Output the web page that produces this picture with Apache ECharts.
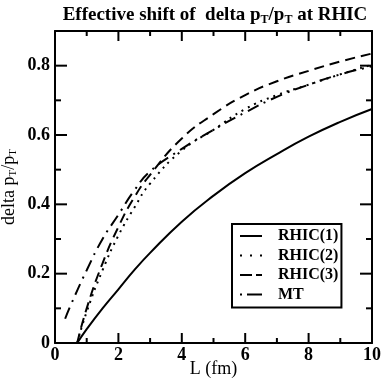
<!DOCTYPE html>
<html>
<head>
<meta charset="utf-8">
<script src="https://cdn.jsdelivr.net/npm/echarts@6/dist/echarts.min.js"></script>
<style>
  html, body { margin: 0; padding: 0; background: #fff; }
  #main { width: 382px; height: 382px; }
</style>
</head>
<body>
<div id="main"></div>
<script>
// values: [L (fm), delta pT/pT]
var rhic1 = [[0.7, 0], [1, 0.04], [1.5, 0.1], [2, 0.155], [2.5, 0.21], [3, 0.26], [4, 0.35], [5, 0.425], [6, 0.49], [7, 0.545], [8, 0.595], [9, 0.638], [10, 0.675]];
var rhic2 = [[0.7, 0], [1, 0.09], [1.5, 0.21], [2, 0.31], [2.5, 0.39], [3, 0.46], [4, 0.555], [5, 0.615], [6, 0.675], [7, 0.715], [8, 0.745], [9, 0.775], [10, 0.803]];
var rhic3 = [[0.7, 0], [1, 0.1], [1.5, 0.23], [2, 0.335], [2.5, 0.42], [3, 0.485], [4, 0.59], [5, 0.66], [6, 0.715], [7, 0.755], [8, 0.785], [9, 0.812], [10, 0.835]];
var mt = [[0.32, 0.07], [0.5, 0.11], [1, 0.21], [1.5, 0.3], [2, 0.37], [2.5, 0.44], [3, 0.495], [4, 0.56], [5, 0.615], [6, 0.665], [7, 0.71], [8, 0.745], [9, 0.775], [10, 0.798]];
var seriesNames = ['RHIC(1)', 'RHIC(2)', 'RHIC(3)', 'MT'];

// tick positions on the frame (inside ticks on all four sides)
var xMajorTicks = [0, 2, 4, 6, 8, 10];
var xMinorTicks = [1, 3, 5, 7, 9];
var yMajorTicks = [0, 0.2, 0.4, 0.6, 0.8];
var yMinorTicks = [0.1, 0.3, 0.5, 0.7];

var chartDom = document.getElementById('main');
var myChart = echarts.init(chartDom);
var font = '"Liberation Serif", "Times New Roman", serif';
var X_MIN = 0, X_MAX = 10, Y_MIN = 0, Y_MAX = 0.9;

// legend samples drawn as little filled dash patterns
var legendIcons = [
  'path://M0,0h22v2h-22z',
  'path://M0,0h2v2h-2z M10,0h2v2h-2z M20,0h2v2h-2z',
  'path://M0,0h12v2h-12z M16,0h6v2h-6z',
  'path://M0,0h2v2h-2z M7,0h15v2h-15z'
];

function line(name, data, type) {
  return {
    name: name,
    type: 'line',
    data: data,
    showSymbol: false,
    symbol: 'none',
    smooth: true,
    lineStyle: { color: '#000', width: 2, type: type },
    itemStyle: { color: '#000' }
  };
}

// each tick item: [value, length in px, 0 = x axis / 1 = y axis]
var tickData = [];
xMajorTicks.forEach(function (v) { tickData.push([v, 10, 0]); });
xMinorTicks.forEach(function (v) { tickData.push([v, 5, 0]); });
yMajorTicks.forEach(function (v) { tickData.push([v, 12, 1]); });
yMinorTicks.forEach(function (v) { tickData.push([v, 6, 1]); });

function renderTick(params, api) {
  var item = tickData[params.dataIndex];
  var v = item[0], len = item[1], kind = item[2];
  var style = { stroke: '#000', lineWidth: 2, fill: null };
  var a, b;
  if (kind === 0) {
    a = api.coord([v, Y_MIN]);
    b = api.coord([v, Y_MAX]);
    return {
      type: 'group',
      children: [
        { type: 'line', shape: { x1: a[0], y1: a[1], x2: a[0], y2: a[1] - len }, style: style },
        { type: 'line', shape: { x1: b[0], y1: b[1], x2: b[0], y2: b[1] + len }, style: style }
      ]
    };
  }
  a = api.coord([X_MIN, v]);
  b = api.coord([X_MAX, v]);
  return {
    type: 'group',
    children: [
      { type: 'line', shape: { x1: a[0], y1: a[1], x2: a[0] + len, y2: a[1] }, style: style },
      { type: 'line', shape: { x1: b[0], y1: b[1], x2: b[0] - len, y2: b[1] }, style: style }
    ]
  };
}

var frameLine = { color: '#000', width: 2 };

var option = {
  animation: false,
  title: {
    text: '{b|Effective shift of  delta p}{s|T}{b|/p}{s|T}{b| at RHIC}',
    left: 210,
    textAlign: 'center',
    top: 0,
    textStyle: {
      rich: {
        b: { fontFamily: font, fontWeight: 'bold', fontSize: 19, color: '#000' },
        s: { fontFamily: font, fontWeight: 'bold', fontSize: 12, color: '#000', padding: [9, 0, 0, 0] }
      }
    }
  },
  grid: { left: 55, right: 10, top: 31, bottom: 39, outerBoundsMode: 'none' },
  legend: {
    data: seriesNames.map(function (n, i) { return { name: n, icon: legendIcons[i] }; }),
    orient: 'vertical',
    left: 232,
    top: 224,
    padding: [4, 3, 5, 8],
    itemGap: 3.5,
    itemWidth: 22,
    itemHeight: 2,
    borderColor: '#000',
    borderWidth: 2,
    borderRadius: 0,
    itemStyle: { color: '#000' },
    textStyle: { fontFamily: font, fontWeight: 'bold', fontSize: 16, lineHeight: 16, color: '#000', padding: [0, 0, 0, 11] }
  },
  xAxis: [{
    type: 'value',
    min: X_MIN,
    max: X_MAX,
    interval: 2,
    name: 'L (fm)',
    nameLocation: 'middle',
    nameGap: 17,
    nameMoveOverlap: false,
    nameTextStyle: { fontFamily: font, fontSize: 18, color: '#000' },
    axisLine: { show: true, onZero: false, lineStyle: frameLine },
    axisTick: { show: false },
    axisLabel: { fontFamily: font, fontWeight: 'bold', fontSize: 18, color: '#000', margin: 3 },
    splitLine: { show: false }
  }, {
    type: 'value',
    position: 'top',
    min: X_MIN,
    max: X_MAX,
    axisLine: { show: true, onZero: false, lineStyle: frameLine },
    axisTick: { show: false },
    axisLabel: { show: false },
    splitLine: { show: false }
  }],
  yAxis: [{
    type: 'value',
    min: Y_MIN,
    max: Y_MAX,
    interval: 0.2,
    name: '{n|delta p}{s|T}{n|/p}{s|T}',
    nameLocation: 'middle',
    nameRotate: 90,
    nameGap: 36,
    nameMoveOverlap: false,
    nameTextStyle: {
      rich: {
        n: { fontFamily: font, fontSize: 18, color: '#000' },
        s: { fontFamily: font, fontSize: 11, color: '#000', padding: [8, 0, 0, 0] }
      }
    },
    axisLine: { show: true, onZero: false, lineStyle: frameLine },
    axisTick: { show: false },
    axisLabel: {
      fontFamily: font, fontWeight: 'bold', fontSize: 18, color: '#000', margin: 5,
      showMaxLabel: false,
      formatter: function (v) { return v === 0 ? '0' : v.toFixed(1); }
    },
    splitLine: { show: false }
  }, {
    type: 'value',
    position: 'right',
    min: Y_MIN,
    max: Y_MAX,
    axisLine: { show: true, onZero: false, lineStyle: frameLine },
    axisTick: { show: false },
    axisLabel: { show: false },
    splitLine: { show: false }
  }],
  series: [
    line(seriesNames[0], rhic1, 'solid'),
    line(seriesNames[1], rhic2, [2, 5]),
    line(seriesNames[2], rhic3, [10, 6]),
    line(seriesNames[3], mt, [12, 6, 2, 6]),
    {
      type: 'custom',
      name: 'ticks',
      silent: true,
      clip: false,
      z: 10,
      data: tickData.map(function (t) { return [t[0], 0]; }),
      renderItem: renderTick
    }
  ]
};

option && myChart.setOption(option);
</script>
</body>
</html>
